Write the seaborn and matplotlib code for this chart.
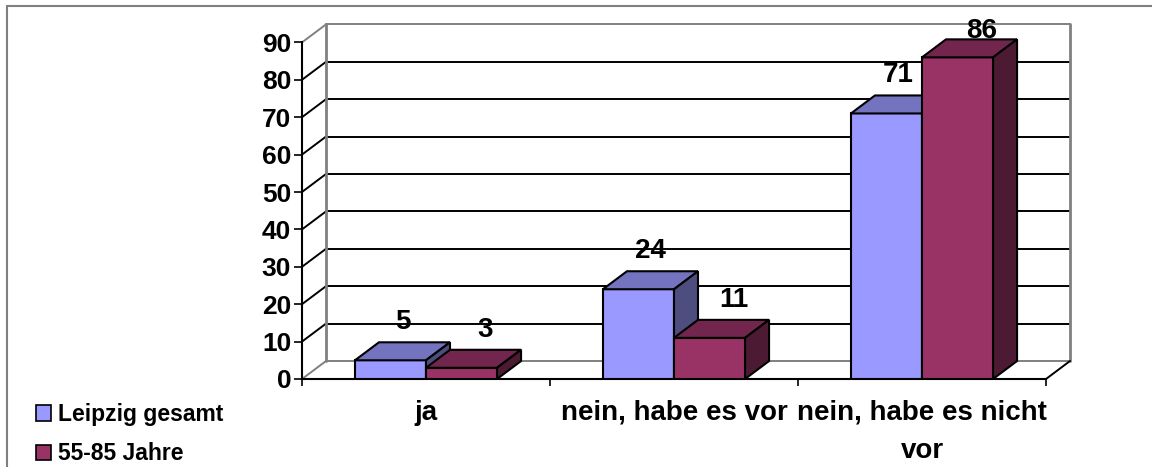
import matplotlib
matplotlib.use("Agg")
import matplotlib.pyplot as plt
from matplotlib.patches import Polygon, Patch
from matplotlib.lines import Line2D
import seaborn as sns
import pandas as pd
import numpy as np

categories = ["ja", "nein, habe es vor", "nein, habe es nicht\nvor"]
series = ["Leipzig gesamt", "55-85 Jahre"]
leipzig = [5, 24, 71]
senioren = [3, 11, 86]
yticks = [0, 10, 20, 30, 40, 50, 60, 70, 80, 90]

front_cols = ["#9999FF", "#993366"]
top_cols = ["#7373BF", "#73264D"]
side_cols = ["#4D4D80", "#4D1A33"]

df = pd.DataFrame({
    "cat": categories * 2,
    "series": [series[0]] * 3 + [series[1]] * 3,
    "val": leipzig + senioren,
})

sns.set_style("white")
plt.rcParams["font.family"] = ["Liberation Sans", "DejaVu Sans"]
plt.rcParams["font.weight"] = "bold"
for k in ("text.color", "axes.labelcolor", "xtick.color", "ytick.color"):
    plt.rcParams[k] = "black"

W, H = 1152, 467
fig = plt.figure(figsize=(W / 100, H / 100), dpi=100)
x0, x1, y0, y1 = 302, 1046, 379, 42.4
ax = fig.add_axes([x0 / W, 1 - y0 / H, (x1 - x0) / W, (y0 - y1) / H])

sns.barplot(data=df, x="cat", y="val", hue="series", palette=front_cols,
            width=0.573, gap=0, edgecolor="black", linewidth=1.5,
            legend=False, ax=ax, saturation=1)

ax.set_xlim(-0.5, 2.5)
ax.set_ylim(0, 90)

# depth offset (px -> data)
dx_px, dy_px = 24, 18
dx = dx_px * 3 / (x1 - x0)
dy = dy_px * 90 / (y0 - y1)

gray = "#808080"
# back wall and grid
for v in yticks:
    c = gray if v in (0, 90) else "black"
    ax.add_line(Line2D([-0.5 + dx, 2.5 + dx], [v + dy, v + dy], color=c, lw=1.4, clip_on=False, zorder=1))
    ax.add_line(Line2D([-0.5, -0.5 + dx], [v, v + dy], color=c, lw=1.4, clip_on=False, zorder=1))
for xx in (-0.5 + dx, 2.5 + dx):
    ax.add_line(Line2D([xx, xx], [dy, 90 + dy], color=gray, lw=2, clip_on=False, zorder=1))
ax.add_line(Line2D([2.5, 2.5 + dx], [0, dy], color="black", lw=1.4, clip_on=False, zorder=1))

fig.canvas.draw()
# 3D faces
bars = sorted([p for p in ax.patches], key=lambda p: p.get_x())
for i, p in enumerate(bars):
    xl = p.get_x(); w = p.get_width(); h = p.get_height()
    fc = p.get_facecolor()
    si = 0 if fc[2] > 0.9 else 1
    z = 3 + i
    p.set_zorder(z)
    top = Polygon([[xl, h], [xl + dx, h + dy], [xl + w + dx, h + dy], [xl + w, h]],
                  closed=True, facecolor=top_cols[si], edgecolor="black", lw=1.5, zorder=z + 0.5, clip_on=False)
    side = Polygon([[xl + w, 0], [xl + w + dx, dy], [xl + w + dx, h + dy], [xl + w, h]],
                   closed=True, facecolor=side_cols[si], edgecolor="black", lw=1.5, zorder=z + 0.5, clip_on=False)
    ax.add_patch(top); ax.add_patch(side)
    off = dx / 2 if si == 0 else dx
    px, py = ax.transData.transform((xl + w / 2 + off, h + dy))
    py_top = H - py - 20          # label centre, px from top
    py_top = max(py_top, 31)      # keep label inside the chart area
    fig.text(px / W, 1 - py_top / H, f"{int(round(h))}", ha="center", va="center",
             fontsize=20, fontweight="bold", zorder=20)

# axes styling
for s in ("top", "right"):
    ax.spines[s].set_visible(False)
for s in ("left", "bottom"):
    ax.spines[s].set_color("black")
    ax.spines[s].set_linewidth(1.5)
    ax.spines[s].set_zorder(2)

ax.set_yticks(yticks)
ax.set_yticklabels([str(v) for v in yticks], fontsize=19, fontweight="bold")
ax.tick_params(axis="y", direction="out", length=5.8, width=1.2, pad=2, left=True, colors="black")

ax.set_xticks([0, 1, 2])
ax.set_xticklabels(categories, fontsize=20, fontweight="bold", linespacing=1.6)
ax.set_xticks([-0.5, 0.5, 1.5, 2.5], minor=True)
ax.tick_params(axis="x", which="major", length=0, pad=15)
ax.tick_params(axis="x", which="minor", direction="out", length=5, width=1.2, bottom=True)
ax.set_xlabel(""); ax.set_ylabel("")

handles = [Patch(facecolor=front_cols[i], edgecolor="black", lw=1.2) for i in range(2)]
fig.legend(handles, series, loc="upper left", bbox_to_anchor=(36 / W, 1 - 403 / H),
           frameon=False, prop={"size": 16.5, "weight": "bold"}, handlelength=0.65,
           handleheight=0.65, handletextpad=0.3, labelspacing=0.72, borderpad=0, borderaxespad=0)

# outer border (top and left)
fig.add_artist(Line2D([7 / W, 1], [1 - 6 / H, 1 - 6 / H], color=gray, lw=1.5, transform=fig.transFigure))
fig.add_artist(Line2D([7 / W, 7 / W], [0, 1 - 6 / H], color=gray, lw=1.5, transform=fig.transFigure))

fig.savefig("out.png", dpi=100)
